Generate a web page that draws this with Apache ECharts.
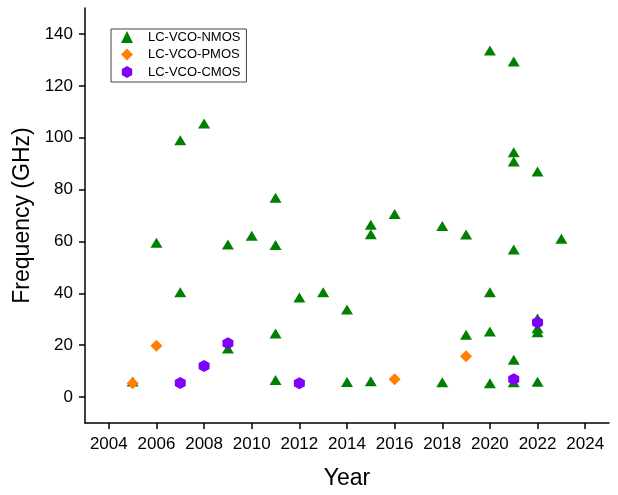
<!DOCTYPE html>
<html>
<head>
<meta charset="utf-8">
<script src="https://cdn.jsdelivr.net/npm/echarts@6/dist/echarts.min.js"></script>
<style>
  html, body { margin: 0; padding: 0; background: #fff; }
  #chart { width: 618px; height: 495px; }
</style>
</head>
<body>
<div id="chart"></div>
<script>
// LC-VCO oscillation frequency by publication year, grouped by core topology
const nmosYear = [2005, 2006, 2007, 2007, 2008, 2009, 2009, 2010, 2011, 2011,
                  2011, 2011, 2012, 2013, 2014, 2014, 2015, 2015, 2015, 2016,
                  2018, 2018, 2019, 2019, 2020, 2020, 2020, 2020, 2021, 2021,
                  2021, 2021, 2021, 2021, 2022, 2022, 2022, 2022, 2022, 2023];
const nmosFreq = [6.0, 59.5, 99.0, 40.4, 105.5, 58.8, 18.7, 62.2, 76.8, 58.6,
                  24.5, 6.6, 38.4, 40.4, 33.8, 5.8, 66.4, 62.8, 6.1, 70.6,
                  66.0, 5.7, 62.7, 24.0, 133.6, 40.4, 25.3, 5.3, 129.4, 94.4,
                  90.8, 56.9, 14.4, 5.7, 87.0, 30.3, 26.5, 25.0, 5.9, 61.0];

const pmosYear = [2005, 2006, 2016, 2019];
const pmosFreq = [5.3, 19.8, 6.9, 15.7];

const cmosYear = [2007, 2008, 2009, 2012, 2021, 2022];
const cmosFreq = [5.4, 12.0, 20.7, 5.3, 6.9, 28.7];

const yearTicks = [2004, 2006, 2008, 2010, 2012, 2014, 2016, 2018, 2020, 2022, 2024];
const freqTicks = [0, 20, 40, 60, 80, 100, 120, 140];

const seriesNames = ['LC-VCO-NMOS', 'LC-VCO-PMOS', 'LC-VCO-CMOS'];

const pairs = (xs, ys) => xs.map((x, i) => [x, ys[i]]);
const hexagon = 'path://M0,-1L0.866,-0.5L0.866,0.5L0,1L-0.866,0.5L-0.866,-0.5Z';
const FONT = 'Liberation Sans, Arial, sans-serif';

const chart = echarts.init(document.getElementById('chart'), null, { renderer: 'canvas' });

const axisCommon = {
  axisLine: { show: true, onZero: false, lineStyle: { color: '#000', width: 1.5 } },
  axisTick: { show: true, inside: false, length: 6, lineStyle: { color: '#000', width: 1.5 } },
  splitLine: { show: false },
  axisLabel: { color: '#000', fontFamily: FONT, fontSize: 17, formatter: v => String(v) },
  nameTextStyle: { color: '#000', fontFamily: FONT, fontSize: 23 }
};

chart.setOption({
  animation: false,
  backgroundColor: '#fff',
  grid: { left: 85, right: 9, top: 8, bottom: 66, containLabel: false },
  legend: {
    orient: 'vertical',
    left: 111,
    top: 29,
    data: seriesNames,
    itemWidth: 12,
    itemHeight: 12,
    itemGap: 3.5,
    padding: [1, 6, 3, 10],
    borderColor: '#444',
    borderWidth: 1,
    textStyle: { color: '#000', fontFamily: FONT, fontSize: 13, lineHeight: 14, padding: [0, 0, 0, 10] }
  },
  xAxis: Object.assign({}, axisCommon, {
    type: 'value',
    min: 2003,
    max: 2025,
    name: 'Year',
    nameLocation: 'middle',
    nameGap: 44,
    axisTick: Object.assign({}, axisCommon.axisTick, { customValues: yearTicks }),
    axisLabel: Object.assign({}, axisCommon.axisLabel, { customValues: yearTicks, margin: 13 })
  }),
  yAxis: Object.assign({}, axisCommon, {
    type: 'value',
    min: -10,
    max: 150,
    name: 'Frequency (GHz)',
    nameLocation: 'middle',
    nameGap: 43,
    axisTick: Object.assign({}, axisCommon.axisTick, { customValues: freqTicks }),
    axisLabel: Object.assign({}, axisCommon.axisLabel, { customValues: freqTicks, margin: 12 })
  }),
  series: [
    {
      name: seriesNames[0],
      type: 'scatter',
      symbol: 'triangle',
      symbolSize: [12, 10],
      itemStyle: { color: '#008000', opacity: 1 },
      data: pairs(nmosYear, nmosFreq)
    },
    {
      name: seriesNames[1],
      type: 'scatter',
      symbol: 'diamond',
      symbolSize: [12, 12],
      itemStyle: { color: '#FF8000', opacity: 1 },
      data: pairs(pmosYear, pmosFreq)
    },
    {
      name: seriesNames[2],
      type: 'scatter',
      symbol: hexagon,
      symbolSize: [11, 12],
      itemStyle: { color: '#8000FF', opacity: 1 },
      data: pairs(cmosYear, cmosFreq)
    }
  ]
});
</script>
</body>
</html>
